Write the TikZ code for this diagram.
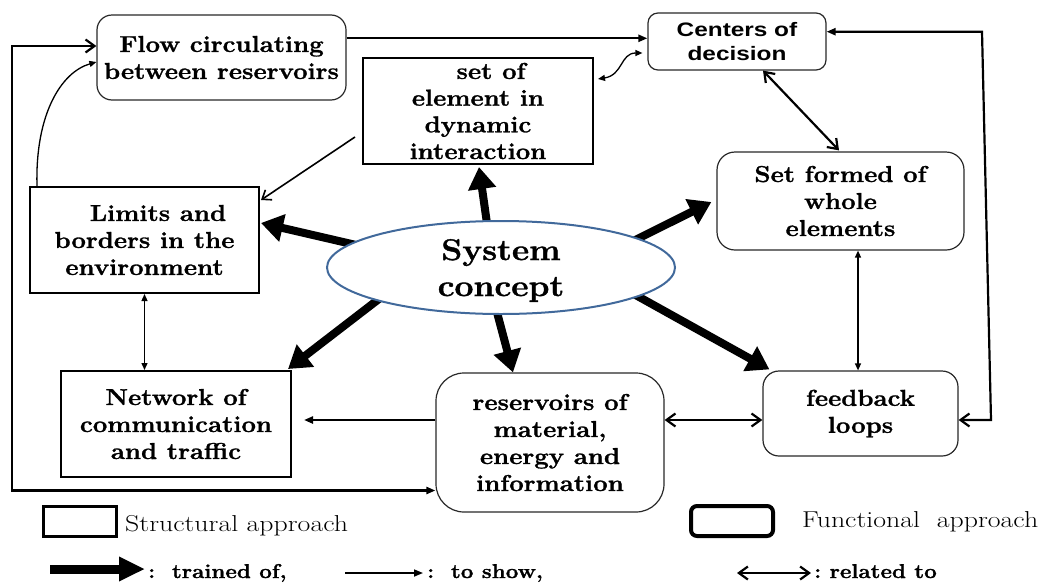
\documentclass[tikz,border=0pt]{standalone}
\usepackage{fontspec}
\setmainfont{Latin Modern Roman}[FakeStretch=1.12, BoldFeatures={FakeBold=1.2}]
\newfontfamily\keyfont{Latin Modern Roman}[FakeStretch=1.21]
\newfontfamily\labelsans{Liberation Sans}[FakeStretch=1.25]
\usetikzlibrary{arrows.meta,shapes.geometric,calc}
\pgfdeclarelayer{background}
\pgfsetlayers{background,main}
\definecolor{ellipseblue}{RGB}{65,105,155}
\definecolor{boxgray}{RGB}{40,40,40}

\begin{document}
\begin{tikzpicture}[x=1pt,y=-1pt,
  txt/.style={font=\fontsize{23}{27}\selectfont\bfseries, align=center, inner sep=0pt},
  structbox/.style={draw=black, line width=2pt, txt},
  funcbox/.style={draw=boxgray, line width=1.2pt, txt},
  thickarrow/.style={line width=8pt, shorten <=-6pt, -{Triangle[length=22pt,width=27pt]}},
  conn/.style={line width=2.2pt},
  thinconn/.style={line width=1.3pt},
  legendtxt/.style={font=\keyfont\fontsize{23}{27}\selectfont, inner sep=0pt},
  keytxt/.style={font=\fontsize{20}{24}\selectfont\bfseries, inner sep=0pt},
  barb/.tip={Straight Barb[length=9pt,width=13pt]},
  tri/.tip={Triangle[length=9pt,width=7pt]},
  smalltri/.tip={Triangle[length=7pt,width=6pt]}
]
\useasboundingbox (0,0) rectangle (1038,584);

% ---- boxes ----
\node[funcbox, rounded corners=15pt, minimum width=249pt, minimum height=85pt]
  (flow) at (221.5,57.5) {Flow circulating\\between reservoirs};
\node[structbox, minimum width=230pt, minimum height=106pt, font=\fontsize{23}{26.7}\selectfont\bfseries]
  (setof) at (478,111) {\hspace*{26pt}set of\\element in\\dynamic\\interaction};
\node[funcbox, rounded corners=10pt, minimum width=178pt, minimum height=57pt,
  font=\labelsans\fontsize{19.5}{24}\selectfont\bfseries]
  (centers) at (737,41.5) {Centers of\\decision};
\node[funcbox, rounded corners=18pt, minimum width=247pt, minimum height=98pt]
  (whole) at (840.5,201) {Set formed of\\whole\\elements};
\node[structbox, minimum width=229pt, minimum height=106pt]
  (limits) at (144.5,240) {\hspace*{27pt}Limits and\\borders in the\\environment};
\node[structbox, minimum width=230pt, minimum height=106pt]
  (network) at (176,424) {Network of\\communication\\and traffic};
\node[funcbox, rounded corners=28pt, minimum width=228pt, minimum height=139pt]
  (res) at (550,442.5) {reservoirs of\\material,\\energy and\\information};
\node[funcbox, rounded corners=16pt, minimum width=195pt, minimum height=85pt]
  (fb) at (860.5,413.5) {feedback\\loops};

% ---- central ellipse ----
\node[ellipse, draw=ellipseblue, line width=2pt, fill=white,
  minimum width=348pt, minimum height=93pt, inner sep=0pt] (sys) at (501,267.5) {};
\node[txt, font=\fontsize{30}{36}\selectfont\bfseries] (systxt) at (501,270.5) {System\\concept};

% ---- thick arrows leaving the concept ----
\begin{pgfonlayer}{background}
\draw[thickarrow] (sys.107) -- ($(setof.south)+(1,2)$);
\draw[thickarrow] (sys.12) -- ($(whole.west)+(-5,1)$);
\draw[thickarrow] (sys.348) -- ($(fb.north west)+(7,-1)$);
\draw[thickarrow] (sys.266) -- ($(res.north)+(-37,0)$);
\draw[thickarrow] (sys.195) -- ($(network.north east)+(-4,-1)$);
\draw[thickarrow] (sys.171) -- ($(limits.east)+(1,-17)$);
\end{pgfonlayer}

% ---- outer loops ----
\coordinate (loopTL) at (12,46);
\coordinate (loopBL) at (12,490.5);
\draw[conn, barb-tri] ($(flow.west)+(0,-11.5)$) -- (loopTL) -- (loopBL) -- ($(res.west)+(0,48)$);

\draw[conn, -tri] ($(flow.east)+(0,-19.2)$) -- ($(centers.west)+(0,-3.2)$);

\coordinate (loopTR) at (982,31.7);
\coordinate (loopBR) at (991,420);
\draw[conn, tri-barb] ($(centers.east)+(0,-9.8)$) -- (loopTR) -- (loopBR) -- ($(fb.east)+(0,6.5)$);

% ---- links between boxes ----
\draw[thinconn, smalltri-smalltri] ($(setof.east)+(4,-32)$) .. controls +(25,-4) and +(-22,0) .. ($(centers.west)+(-5,11.5)$);
\draw[conn, barb-barb] ($(centers.south)+(26,0)$) -- ($(whole.north)+(-1.5,-1)$);
\draw[thinconn, smalltri-smalltri] ($(whole.south)+(17.5,0)$) -- ($(fb.north)+(-2.5,0)$);
\draw[conn, barb-barb] ($(res.east)+(0,-22.5)$) -- ($(fb.west)+(0,6.5)$);
\draw[conn, -tri] ($(res.west)+(0,-22.5)$) -- ($(network.east)+(12,-4)$);
\draw[thinconn, smalltri-smalltri] (limits.south) -- ($(network.north)+(-31.5,0)$);
\draw[thinconn, -smalltri] ($(limits.north west)+(8,0)$) .. controls +(-2,-72) and +(-35,10) .. ($(flow.west)+(0,4.5)$);
\draw[line width=1.6pt, -{Straight Barb[length=8pt,width=12pt]}] ($(setof.west)+(-7,26)$) -- ($(limits.east)+(1,-40)$);

% ---- key ----
\node[draw, line width=3pt, minimum width=73pt, minimum height=30pt, inner sep=0pt] (keyS) at (79.5,521) {};
\node[legendtxt, anchor=base west] (keyStxt) at (125,531) {Structural approach};
\node[draw, line width=4pt, rounded corners=6pt, minimum width=82pt, minimum height=30pt, inner sep=0pt] (keyF) at (732,521) {};
\node[legendtxt, anchor=base west] (keyFtxt) at (802,527) {Functional\ \ approach};

\node[keytxt, anchor=base west] (keyT) at (148,578) {:\ \ trained of,};
\coordinate (keyTstart) at (50,569);
\draw[line width=9pt, shorten >=3pt, -{Triangle[length=26pt,width=23pt]}] (keyTstart) -- (keyTstart -| keyT.west);

\node[keytxt, anchor=base west] (keyW) at (427,578) {:\ \ to show,};
\coordinate (keyWstart) at (345,573);
\draw[line width=1.6pt, shorten >=4pt, -tri] (keyWstart) -- (keyWstart -| keyW.west);

\node[keytxt, anchor=base west] (keyR) at (814,578) {:\ related to};
\coordinate (keyRstart) at (737,573);
\draw[line width=2.2pt, shorten >=3pt, barb-barb] (keyRstart) -- (keyRstart -| keyR.west);
\end{tikzpicture}
\end{document}
